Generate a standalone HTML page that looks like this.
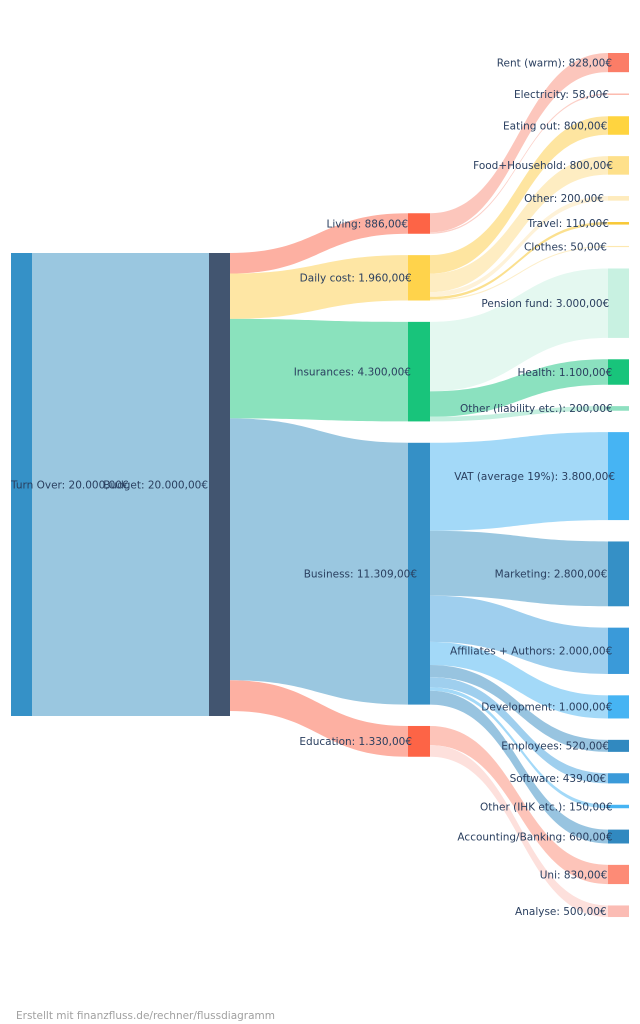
<!DOCTYPE html>
<html>
<head>
<meta charset="utf-8">
<style>
html,body{margin:0;padding:0;background:#fff;}
svg{display:block;}
text{font-family:"DejaVu Sans","Liberation Sans",sans-serif;font-size:10.5px;fill:#2a3f5f;}
</style>
</head>
<body>
<svg width="640" height="1024" viewBox="0 0 640 1024" xmlns="http://www.w3.org/2000/svg">
<rect x="0" y="0" width="640" height="1024" fill="#fff"/>
<!-- links col0->col1 -->
<rect x="32" y="253" width="177" height="463" fill="#9ac7e0"/>
<!-- links budget -> col2 -->
<path d="M230 253 C319 253 319 213.25 408 213.25 L408 233.76 C319 233.76 319 273.51 230 273.51Z" fill="#fdb0a2"/>
<path d="M230 273.51 C319 273.51 319 255.13 408 255.13 L408 300.5 C319 300.5 319 318.88 230 318.88Z" fill="#fee6a4"/>
<path d="M230 318.88 C319 318.88 319 321.87 408 321.87 L408 421.42 C319 421.42 319 418.43 230 418.43Z" fill="#8ae2bd"/>
<path d="M230 418.43 C319 418.43 319 442.79 408 442.79 L408 704.6 C319 704.6 319 680.24 230 680.24Z" fill="#9ac7e0"/>
<path d="M230 680.24 C319 680.24 319 725.97 408 725.97 L408 756.76 C319 756.76 319 711.03 230 711.03Z" fill="#fdb0a2"/>
<!-- links col2 -> col3 -->
<path d="M430 213.25 C519 213.25 519 53 608 53 L608 72.17 C519 72.17 519 232.42 430 232.42Z" fill="#fcc6bc"/>
<path d="M430 232.42 C519 232.42 519 93.54 608 93.54 L608 94.88 C519 94.88 519 233.76 430 233.76Z" fill="#fcd0c8"/>
<path d="M430 255.13 C519 255.13 519 116.25 608 116.25 L608 134.77 C519 134.77 519 273.65 430 273.65Z" fill="#fee5a0"/>
<path d="M430 273.65 C519 273.65 519 156.14 608 156.14 L608 174.66 C519 174.66 519 292.17 430 292.17Z" fill="#feedc2"/>
<path d="M430 292.17 C519 292.17 519 196.03 608 196.03 L608 200.66 C519 200.66 519 296.8 430 296.8Z" fill="#fef2d8"/>
<path d="M430 296.8 C519 296.8 519 222.03 608 222.03 L608 224.57 C519 224.57 519 299.35 430 299.35Z" fill="#fbe08f"/>
<path d="M430 299.35 C519 299.35 519 245.94 608 245.94 L608 247.1 C519 247.1 519 300.5 430 300.5Z" fill="#fdeec8"/>
<path d="M430 321.87 C519 321.87 519 268.47 608 268.47 L608 337.92 C519 337.92 519 391.32 430 391.32Z" fill="#e4f8f0"/>
<path d="M430 391.32 C519 391.32 519 359.29 608 359.29 L608 384.75 C519 384.75 519 416.79 430 416.79Z" fill="#8be1bf"/>
<path d="M430 416.79 C519 416.79 519 406.12 608 406.12 L608 410.75 C519 410.75 519 421.42 430 421.42Z" fill="#c4efdf"/>
<path d="M430 442.79 C519 442.79 519 432.12 608 432.12 L608 520.09 C519 520.09 519 530.76 430 530.76Z" fill="#a3d9f8"/>
<path d="M430 530.76 C519 530.76 519 541.46 608 541.46 L608 606.28 C519 606.28 519 595.58 430 595.58Z" fill="#9ac7e0"/>
<path d="M430 595.58 C519 595.58 519 627.65 608 627.65 L608 673.95 C519 673.95 519 641.88 430 641.88Z" fill="#9fcfee"/>
<path d="M430 641.88 C519 641.88 519 695.32 608 695.32 L608 718.47 C519 718.47 519 665.03 430 665.03Z" fill="#a3d9f8"/>
<path d="M430 665.03 C519 665.03 519 739.84 608 739.84 L608 751.87 C519 751.87 519 677.07 430 677.07Z" fill="#98c4e0"/>
<path d="M430 677.07 C519 677.07 519 773.24 608 773.24 L608 783.4 C519 783.4 519 687.23 430 687.23Z" fill="#9fcfee"/>
<path d="M430 687.23 C519 687.23 519 804.77 608 804.77 L608 808.24 C519 808.24 519 690.7 430 690.7Z" fill="#a3d9f8"/>
<path d="M430 690.7 C519 690.7 519 829.61 608 829.61 L608 843.5 C519 843.5 519 704.6 430 704.6Z" fill="#98c4e0"/>
<path d="M430 725.97 C519 725.97 519 864.87 608 864.87 L608 884.08 C519 884.08 519 745.18 430 745.18Z" fill="#fdc4b9"/>
<path d="M430 745.18 C519 745.18 519 905.45 608 905.45 L608 917.03 C519 917.03 519 756.76 430 756.76Z" fill="#fde0dc"/>
<!-- nodes -->
<rect x="11" y="253" width="21" height="463" fill="#3591c7"/>
<rect x="209" y="253" width="21" height="463" fill="#425570"/>
<rect x="408" y="213.25" width="22" height="20.51" fill="#fd6446"/>
<rect x="408" y="255.13" width="22" height="45.37" fill="#ffd34b"/>
<rect x="408" y="321.87" width="22" height="99.55" fill="#18c47b"/>
<rect x="408" y="442.79" width="22" height="261.81" fill="#3590c6"/>
<rect x="408" y="725.97" width="22" height="30.79" fill="#fd6446"/>
<rect x="608" y="53" width="21" height="19.17" fill="#fb7d67"/>
<rect x="608" y="93.54" width="21" height="1.34" fill="#fcb4a6"/>
<rect x="608" y="116.25" width="21" height="18.52" fill="#ffd43f"/>
<rect x="608" y="156.14" width="21" height="18.52" fill="#fee08a"/>
<rect x="608" y="196.03" width="21" height="4.63" fill="#feebbd"/>
<rect x="608" y="222.03" width="21" height="2.55" fill="#f8c837"/>
<rect x="608" y="245.94" width="21" height="1.16" fill="#fde8b0"/>
<rect x="608" y="268.47" width="21" height="69.45" fill="#c8f1e1"/>
<rect x="608" y="359.29" width="21" height="25.46" fill="#18c47b"/>
<rect x="608" y="406.12" width="21" height="4.63" fill="#8fe0c1"/>
<rect x="608" y="432.12" width="21" height="87.97" fill="#46b4f3"/>
<rect x="608" y="541.46" width="21" height="64.82" fill="#3590c6"/>
<rect x="608" y="627.65" width="21" height="46.3" fill="#3a9ad9"/>
<rect x="608" y="695.32" width="21" height="23.15" fill="#46b4f3"/>
<rect x="608" y="739.84" width="21" height="12.03" fill="#3189c0"/>
<rect x="608" y="773.24" width="21" height="10.16" fill="#3a9ad9"/>
<rect x="608" y="804.77" width="21" height="3.47" fill="#46b4f3"/>
<rect x="608" y="829.61" width="21" height="13.89" fill="#3189c0"/>
<rect x="608" y="864.87" width="21" height="19.21" fill="#fd8b76"/>
<rect x="608" y="905.45" width="21" height="11.58" fill="#fbbcb4"/>
<!-- labels -->
<text x="11" y="488.3">Turn Over: 20.000,00€</text>
<text x="208" y="488.3" text-anchor="end">Budget: 20.000,00€</text>
<text x="408" y="227.3" text-anchor="end">Living: 886,00€</text>
<text x="411.7" y="281.6" text-anchor="end">Daily cost: 1.960,00€</text>
<text x="411" y="375.4" text-anchor="end">Insurances: 4.300,00€</text>
<text x="417" y="577.5" text-anchor="end">Business: 11.309,00€</text>
<text x="412" y="745.2" text-anchor="end">Education: 1.330,00€</text>
<text x="612" y="66.4" text-anchor="end">Rent (warm): 828,00€</text>
<text x="609" y="98" text-anchor="end">Electricity: 58,00€</text>
<text x="607.3" y="129.3" text-anchor="end">Eating out: 800,00€</text>
<text x="613" y="169.2" text-anchor="end">Food+Household: 800,00€</text>
<text x="604" y="202.1" text-anchor="end">Other: 200,00€</text>
<text x="609" y="227.1" text-anchor="end">Travel: 110,00€</text>
<text x="607" y="250.3" text-anchor="end">Clothes: 50,00€</text>
<text x="609.3" y="307" text-anchor="end">Pension fund: 3.000,00€</text>
<text x="612.3" y="375.8" text-anchor="end">Health: 1.100,00€</text>
<text x="612.7" y="412.2" text-anchor="end">Other (liability etc.): 200,00€</text>
<text x="615" y="479.9" text-anchor="end">VAT (average 19%): 3.800,00€</text>
<text x="607.3" y="577.7" text-anchor="end">Marketing: 2.800,00€</text>
<text x="612.3" y="654.6" text-anchor="end">Affiliates + Authors: 2.000,00€</text>
<text x="612.3" y="710.7" text-anchor="end">Development: 1.000,00€</text>
<text x="609" y="749.7" text-anchor="end">Employees: 520,00€</text>
<text x="606.2" y="782.1" text-anchor="end">Software: 439,00€</text>
<text x="612.5" y="810.3" text-anchor="end">Other (IHK etc.): 150,00€</text>
<text x="612.5" y="840.4" text-anchor="end">Accounting/Banking: 600,00€</text>
<text x="607.3" y="878.3" text-anchor="end">Uni: 830,00€</text>
<text x="606.7" y="915" text-anchor="end">Analyse: 500,00€</text>
<text x="16" y="1019" style="fill:#a0a0a0;">Erstellt mit finanzfluss.de/rechner/flussdiagramm</text>
</svg>
</body>
</html>
